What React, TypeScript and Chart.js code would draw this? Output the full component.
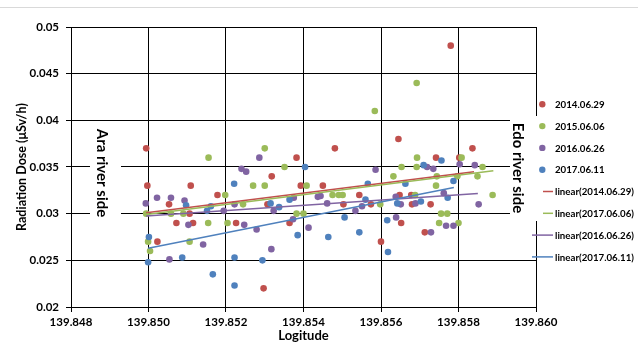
import React, { useEffect, useRef } from 'react';
import { Chart, registerables } from 'chart.js';
Chart.register(...registerables);

type P = [number, number];

const seriesNames = ['2014.06.29', '2015.06.06', '2016.06.26', '2017.06.11'];
const trendNames = ['linear(2014.06.29)', 'linear(2017.06.06)', 'linear(2016.06.26)', 'linear(2017.06.11)'];
const colors = ['#C0504D', '#9BBB59', '#8064A2', '#4F81BD'];

const xMin = 139.848;
const xMax = 139.860;
const xStep = 0.002;
const yMin = 0.02;
const yMax = 0.05;
const yStep = 0.005;

const s2014: P[] = [
  [139.84994, 0.037], [139.84997, 0.033], [139.85109, 0.033], [139.85053, 0.031], [139.85106, 0.030],
  [139.85072, 0.029], [139.85115, 0.029], [139.85023, 0.027], [139.85178, 0.032], [139.85318, 0.034],
  [139.85307, 0.031], [139.85226, 0.029], [139.85297, 0.022], [139.85481, 0.037], [139.85382, 0.036],
  [139.85393, 0.033], [139.8545, 0.033], [139.85544, 0.032], [139.85503, 0.031], [139.85364, 0.029],
  [139.85645, 0.038], [139.85574, 0.031], [139.85648, 0.032], [139.85678, 0.032], [139.8568, 0.031],
  [139.85728, 0.031], [139.85652, 0.029], [139.85713, 0.028], [139.856, 0.027], [139.85836, 0.037],
  [139.85742, 0.036], [139.85802, 0.036], [139.8578, 0.048],
];

const s2015: P[] = [
  [139.85155, 0.036], [139.84994, 0.030], [139.85058, 0.030], [139.8509, 0.030], [139.85154, 0.029],
  [139.84999, 0.027], [139.85004, 0.026], [139.85106, 0.027], [139.853, 0.037], [139.85351, 0.035],
  [139.8527, 0.033], [139.853, 0.033], [139.85198, 0.032], [139.85244, 0.031], [139.85204, 0.029],
  [139.85408, 0.033], [139.85475, 0.032], [139.85491, 0.032], [139.85501, 0.032], [139.85382, 0.030],
  [139.854, 0.030], [139.85693, 0.036], [139.85653, 0.035], [139.85692, 0.035], [139.85632, 0.034],
  [139.85598, 0.031], [139.85688, 0.032], [139.85584, 0.041], [139.85692, 0.044], [139.85808, 0.036],
  [139.85862, 0.035], [139.85744, 0.034], [139.85797, 0.034], [139.85849, 0.034], [139.85742, 0.033],
  [139.85888, 0.032], [139.85755, 0.030], [139.85771, 0.030], [139.8575, 0.029], [139.858, 0.029],
];

const s2016: P[] = [
  [139.85022, 0.0317], [139.85058, 0.0317], [139.84993, 0.0311], [139.85093, 0.0314], [139.85103, 0.0288],
  [139.85141, 0.0267], [139.85054, 0.0251], [139.85286, 0.036], [139.8524, 0.0348], [139.85252, 0.0345],
  [139.85222, 0.0310], [139.85194, 0.0303], [139.85323, 0.0303], [139.85247, 0.0288], [139.85279, 0.0283],
  [139.85317, 0.0262], [139.85375, 0.0317], [139.85437, 0.0318], [139.85444, 0.0319], [139.85461, 0.0311],
  [139.85373, 0.0294], [139.85413, 0.0285], [139.85534, 0.0303], [139.85586, 0.0347], [139.85719, 0.035],
  [139.85551, 0.0308], [139.85638, 0.0318], [139.85651, 0.031], [139.85689, 0.0311], [139.85639, 0.0296],
  [139.85729, 0.028], [139.85735, 0.0348], [139.85803, 0.0353], [139.85842, 0.0352], [139.85762, 0.0322],
  [139.85852, 0.031], [139.85768, 0.0287], [139.85787, 0.0287],
];

const s2017: P[] = [
  [139.85097, 0.0309], [139.85161, 0.0308], [139.85151, 0.0303], [139.85001, 0.0275], [139.84999, 0.0248],
  [139.85087, 0.0253], [139.85166, 0.0235], [139.85221, 0.0332], [139.85315, 0.0311], [139.85337, 0.0307],
  [139.85222, 0.0253], [139.85294, 0.025], [139.85222, 0.0223], [139.85404, 0.035], [139.85364, 0.0315],
  [139.85506, 0.0296], [139.85385, 0.0277], [139.85464, 0.0275], [139.85544, 0.028], [139.8571, 0.0352],
  [139.85566, 0.0332], [139.85663, 0.0332], [139.8556, 0.0315], [139.85642, 0.0311], [139.85703, 0.0313],
  [139.85616, 0.0293], [139.85618, 0.0259], [139.85756, 0.0357], [139.85787, 0.0335], [139.85772, 0.0317],
];

const t2014: P[] = [[139.84994, 0.0301], [139.8584, 0.0345]];
const t2015: P[] = [[139.84994, 0.0299], [139.8589, 0.0346]];
const t2016: P[] = [[139.84994, 0.02975], [139.8585, 0.03215]];
const t2017: P[] = [[139.84999, 0.0263], [139.85788, 0.0328]];

const scatterSeries = [s2014, s2015, s2016, s2017];
const trendSeries = [t2014, t2015, t2016, t2017];

const FONT = 'Lato, "Open Sans", sans-serif';

const overlayPlugin = {
  id: 'overlay',
  afterDraw(chart: any) {
    const ctx: CanvasRenderingContext2D = chart.ctx;
    ctx.save();
    // outer chart border (top)
    ctx.strokeStyle = '#d9d9d9';
    ctx.lineWidth = 1;
    ctx.beginPath();
    ctx.moveTo(0, 7.5);
    ctx.lineTo(638, 7.5);
    ctx.stroke();

    // white boxes behind labels
    ctx.fillStyle = '#ffffff';
    ctx.fillRect(90, 122, 31, 100);
    ctx.fillRect(510, 116, 128, 105);

    // river side labels
    ctx.fillStyle = '#000';
    ctx.font = `bold 15px ${FONT}`;
    ctx.textAlign = 'center';
    ctx.textBaseline = 'middle';
    const rot = (t: string, x: number, y: number) => {
      ctx.save();
      ctx.translate(x, y);
      ctx.rotate(Math.PI / 2);
      ctx.fillText(t, 0, 0);
      ctx.restore();
    };
    rot('Ara river side', 102, 173);
    rot('Edo river side', 518, 168);

    // legend
    ctx.font = `bold 9.7px ${FONT}`;
    ctx.textAlign = 'left';
    const y0 = 104.3;
    const dy = 21.8;
    for (let i = 0; i < 4; i++) {
      const y = y0 + i * dy;
      ctx.fillStyle = colors[i];
      ctx.beginPath();
      ctx.arc(542.3, y, 3.2, 0, Math.PI * 2);
      ctx.fill();
      ctx.fillStyle = '#000';
      ctx.fillText(seriesNames[i], 555, y + 0.5);
    }
    for (let i = 0; i < 4; i++) {
      const y = y0 + (i + 4) * dy;
      ctx.strokeStyle = colors[i];
      ctx.lineWidth = 1.5;
      ctx.beginPath();
      ctx.moveTo(i < 2 ? 543 : 532, y);
      ctx.lineTo(553, y);
      ctx.stroke();
      ctx.fillStyle = '#000';
      ctx.fillText(trendNames[i], 555, y + 0.5);
    }
    ctx.restore();
  },
};

export default function App() {
  const ref = useRef<HTMLCanvasElement>(null);
  useEffect(() => {
    if (!ref.current) return;
    const datasets: any[] = [];
    scatterSeries.forEach((s, i) => {
      datasets.push({
        type: 'scatter',
        label: seriesNames[i],
        data: s.map(([x, y]) => ({ x, y })),
        backgroundColor: colors[i],
        borderWidth: 0,
        pointRadius: 3.3,
        order: 20 - i,
      });
    });
    trendSeries.forEach((s, i) => {
      datasets.push({
        type: 'line',
        label: trendNames[i],
        data: s.map(([x, y]) => ({ x, y })),
        borderColor: colors[i],
        borderWidth: 1.5,
        pointRadius: 0,
        fill: false,
        order: 10 - i,
      });
    });
    const chart = new Chart(ref.current, {
      type: 'scatter',
      data: { datasets },
      options: {
        animation: false,
        responsive: false,
        layout: { padding: { top: 27, right: 102, left: 0, bottom: 0 } },
        plugins: { legend: { display: false }, tooltip: { enabled: false } },
        scales: {
          x: {
            type: 'linear',
            min: xMin,
            max: xMax,
            afterFit: (s: any) => { s.height = 38; },
            grid: { color: '#000', lineWidth: 1, tickLength: 5, drawTicks: true },
            border: { color: '#000', width: 1 },
            ticks: {
              stepSize: xStep,
              autoSkip: false,
              maxRotation: 0,
              padding: 3,
              color: '#000',
              font: { family: FONT, size: 11.5, weight: 'bold' },
              callback: (v: any) => Number(v).toFixed(3),
            },
            title: {
              display: true,
              text: 'Logitude',
              color: '#000',
              font: { family: FONT, size: 13, weight: 'bold', lineHeight: 1.2 },
              padding: { top: 0, bottom: 1 },
            },
          },
          y: {
            type: 'linear',
            min: yMin,
            max: yMax,
            afterFit: (s: any) => { s.width = 71; },
            grid: { color: '#000', lineWidth: 1, tickLength: 5, drawTicks: true },
            border: { color: '#000', width: 1 },
            ticks: {
              stepSize: yStep,
              padding: 7,
              color: '#000',
              font: { family: FONT, size: 11.5, weight: 'bold' },
              callback: (v: any) => String(+Number(v).toFixed(3)),
            },
            title: {
              display: true,
              text: 'Radiation Dose (μSv/h)',
              color: '#000',
              font: { family: FONT, size: 12.5, weight: 'bold', lineHeight: 1.2 },
              padding: { top: 14.5, bottom: 0 },
            },
          },
        },
      } as any,
      plugins: [overlayPlugin],
    });
    return () => chart.destroy();
  }, []);
  return (
    <div style={{ position: 'fixed', left: 0, top: 0, width: 638, height: 345, background: '#fff' }}>
      <canvas ref={ref} width={638} height={345} style={{ width: 638, height: 345, display: 'block' }} />
    </div>
  );
}
